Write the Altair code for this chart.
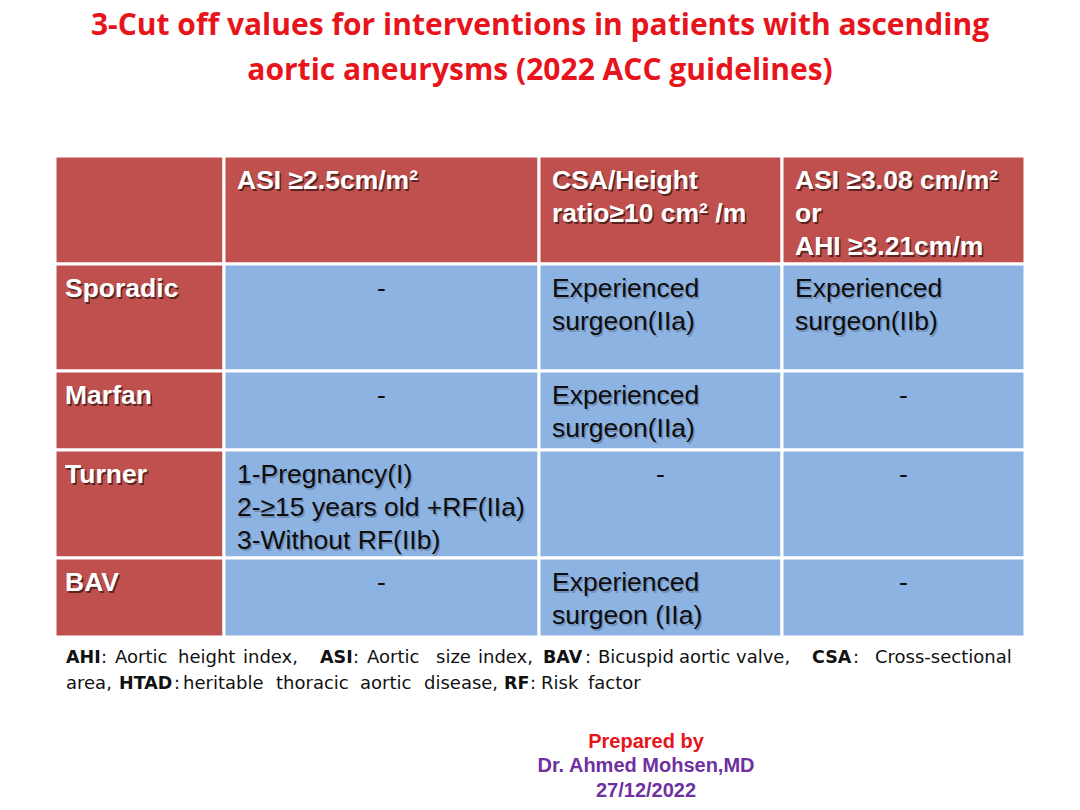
import altair as alt
import pandas as pd

# ---------------- data (text content of the slide) ----------------
TITLE_LINES = [
    "3-Cut off values for  interventions in patients with ascending",
    "aortic aneurysms (2022 ACC guidelines)",
]
COLUMN_HEADERS = [
    "ASI ≥2.5cm/m²",
    "CSA/Height\nratio≥10 cm² /m",
    "ASI ≥3.08 cm/m²\nor\nAHI ≥3.21cm/m",
]
ROW_LABELS = ["Sporadic", "Marfan", "Turner", "BAV"]
SPORADIC = ["-", "Experienced\nsurgeon(IIa)", "Experienced\nsurgeon(IIb)"]
MARFAN = ["-", "Experienced\nsurgeon(IIa)", "-"]
TURNER = ["1-Pregnancy(I)\n2-≥15 years old +RF(IIa)\n3-Without RF(IIb)", "-", "-"]
BAV = ["-", "Experienced\nsurgeon (IIa)", "-"]
BODY = [SPORADIC, MARFAN, TURNER, BAV]

FOOT_WORDS_1 = ["AHI", ":", "Aortic", "height", "index,", "ASI", ":", "Aortic", "size", "index,",
                "BAV", ":", "Bicuspid", "aortic", "valve,", "CSA", ":", "Cross-sectional"]
FOOT_BOLD_1 = [True, False, False, False, False, True, False, False, False, False,
               True, False, False, False, False, True, False, False]
FOOT_WORDS_2 = ["area,", "HTAD", ":", "heritable", "thoracic", "aortic", "disease,",
                "RF", ":", "Risk", "factor"]
FOOT_BOLD_2 = [False, True, False, False, False, False, False, True, False, False, False]

CREDITS = ["Prepared by", "Dr. Ahmed Mohsen,MD", "27/12/2022"]

# ---------------- layout (pixel positions on the 1080x810 page) ----------------
W, H = 1064, 794
COL_EDGES = [55, 224, 539, 782, 1025]
ROW_EDGES = [156, 264, 371, 450, 558, 637]
FOOT_X1 = [66, 101, 115, 178, 243, 320, 353, 367, 436, 478, 543, 585, 598, 679, 736, 812, 853, 875]
FOOT_X2 = [66, 119, 174, 183, 276, 360, 424, 504, 530, 541, 588]
FOOT_Y = [658, 684]
CREDIT_Y = [742, 766, 791]
CREDIT_COLORS = ["#e8141c", "#7030a0", "#7030a0"]
TITLE_Y = [26, 71]

RED = "#c0504d"
BLUE = "#8db3e2"

xs = alt.Scale(domain=[8, 8 + W], range=[0, W], nice=False, zero=False)
ys = alt.Scale(domain=[8, 8 + H], range=[0, H], nice=False, zero=False)


def X(f="x"):
    return alt.X(f"{f}:Q", scale=xs, axis=None)


def Y(f="y"):
    return alt.Y(f"{f}:Q", scale=ys, axis=None)


# ---------------- table cells ----------------
cells = []
for r in range(len(ROW_EDGES) - 1):
    for c in range(len(COL_EDGES) - 1):
        cells.append({
            "x": COL_EDGES[c], "x2": COL_EDGES[c + 1],
            "y": ROW_EDGES[r], "y2": ROW_EDGES[r + 1],
            "fill": RED if (r == 0 or c == 0) else BLUE,
        })
cells_df = pd.DataFrame(cells)

rects = alt.Chart(cells_df).mark_rect(stroke="white", strokeWidth=3).encode(
    x=X(), x2="x2:Q", y=Y(), y2="y2:Q",
    color=alt.Color("fill:N", scale=None),
)

# white header / label text
white_rows = []
for i, h in enumerate(COLUMN_HEADERS):
    white_rows.append({"text": h, "x": COL_EDGES[i + 1] + 13, "y": ROW_EDGES[0] + 12})
for i, lab in enumerate(ROW_LABELS):
    white_rows.append({"text": lab, "x": COL_EDGES[0] + 10, "y": ROW_EDGES[i + 1] + 12})
white_df = pd.DataFrame(white_rows)

body_left, body_dash = [], []
for r, row in enumerate(BODY):
    for c, val in enumerate(row):
        if val == "-":
            body_dash.append({"text": val, "x": (COL_EDGES[c + 1] + COL_EDGES[c + 2]) / 2,
                              "y": ROW_EDGES[r + 1] + 12})
        else:
            body_left.append({"text": val, "x": COL_EDGES[c + 1] + 13, "y": ROW_EDGES[r + 1] + 12})
left_df = pd.DataFrame(body_left)
dash_df = pd.DataFrame(body_dash)

FS = 26.5
LH = 33
common = dict(baseline="top", lineBreak="\n", lineHeight=LH, fontSize=FS, font="Liberation Sans")

white_shadow = alt.Chart(white_df).mark_text(
    align="left", fontWeight="bold", color="#3a1514", opacity=0.75, dx=1.5, dy=1.5, **common
).encode(x=X(), y=Y(), text="text:N")
white_text = alt.Chart(white_df).mark_text(
    align="left", fontWeight="bold", color="white", **common
).encode(x=X(), y=Y(), text="text:N")

body_shadow = alt.Chart(left_df).mark_text(
    align="left", color="#5d7396", opacity=0.55, dx=1.5, dy=1.5, **common
).encode(x=X(), y=Y(), text="text:N")
body_text = alt.Chart(left_df).mark_text(
    align="left", color="#0d0d0d", **common
).encode(x=X(), y=Y(), text="text:N")
dash_text = alt.Chart(dash_df).mark_text(
    align="center", color="#0d0d0d", **common
).encode(x=X(), y=Y(), text="text:N")

# ---------------- title ----------------
title_df = pd.DataFrame({"text": TITLE_LINES, "x": [540, 540], "y": TITLE_Y})
title = alt.Chart(title_df).mark_text(
    align="center", baseline="middle", font="Open Sans", fontWeight="bold",
    fontSize=30, color="#e8141c"
).encode(x=X(), y=Y(), text="text:N")

# ---------------- footnote ----------------
foot_rows = []
for t, b, x in zip(FOOT_WORDS_1, FOOT_BOLD_1, FOOT_X1):
    foot_rows.append({"text": t, "bold": b, "x": x, "y": FOOT_Y[0]})
for t, b, x in zip(FOOT_WORDS_2, FOOT_BOLD_2, FOOT_X2):
    foot_rows.append({"text": t, "bold": b, "x": x, "y": FOOT_Y[1]})
foot_df = pd.DataFrame(foot_rows)

foot_bold = alt.Chart(foot_df[foot_df["bold"]]).mark_text(
    align="left", baseline="middle", font="DejaVu Sans", fontWeight="bold",
    fontSize=17.5, color="#111111"
).encode(x=X(), y=Y(), text="text:N")
foot_reg = alt.Chart(foot_df[~foot_df["bold"]]).mark_text(
    align="left", baseline="middle", font="DejaVu Sans",
    fontSize=18, color="#111111"
).encode(x=X(), y=Y(), text="text:N")

# ---------------- credits ----------------
cred_df = pd.DataFrame({"text": CREDITS, "x": [646, 646, 646], "y": CREDIT_Y, "c": CREDIT_COLORS})
credits = alt.Chart(cred_df).mark_text(
    align="center", baseline="middle", font="Liberation Sans", fontWeight="bold", fontSize=20
).encode(x=X(), y=Y(), text="text:N", color=alt.Color("c:N", scale=None))

chart = alt.layer(
    rects, white_shadow, white_text, body_shadow, body_text, dash_text,
    title, foot_bold, foot_reg, credits
).properties(
    width=W, height=H, padding=0, background="white",
    autosize=alt.AutoSizeParams(type="none"),
).configure_view(stroke=None)

chart.save("out.html", embed_options={"renderer": "svg", "actions": False})
